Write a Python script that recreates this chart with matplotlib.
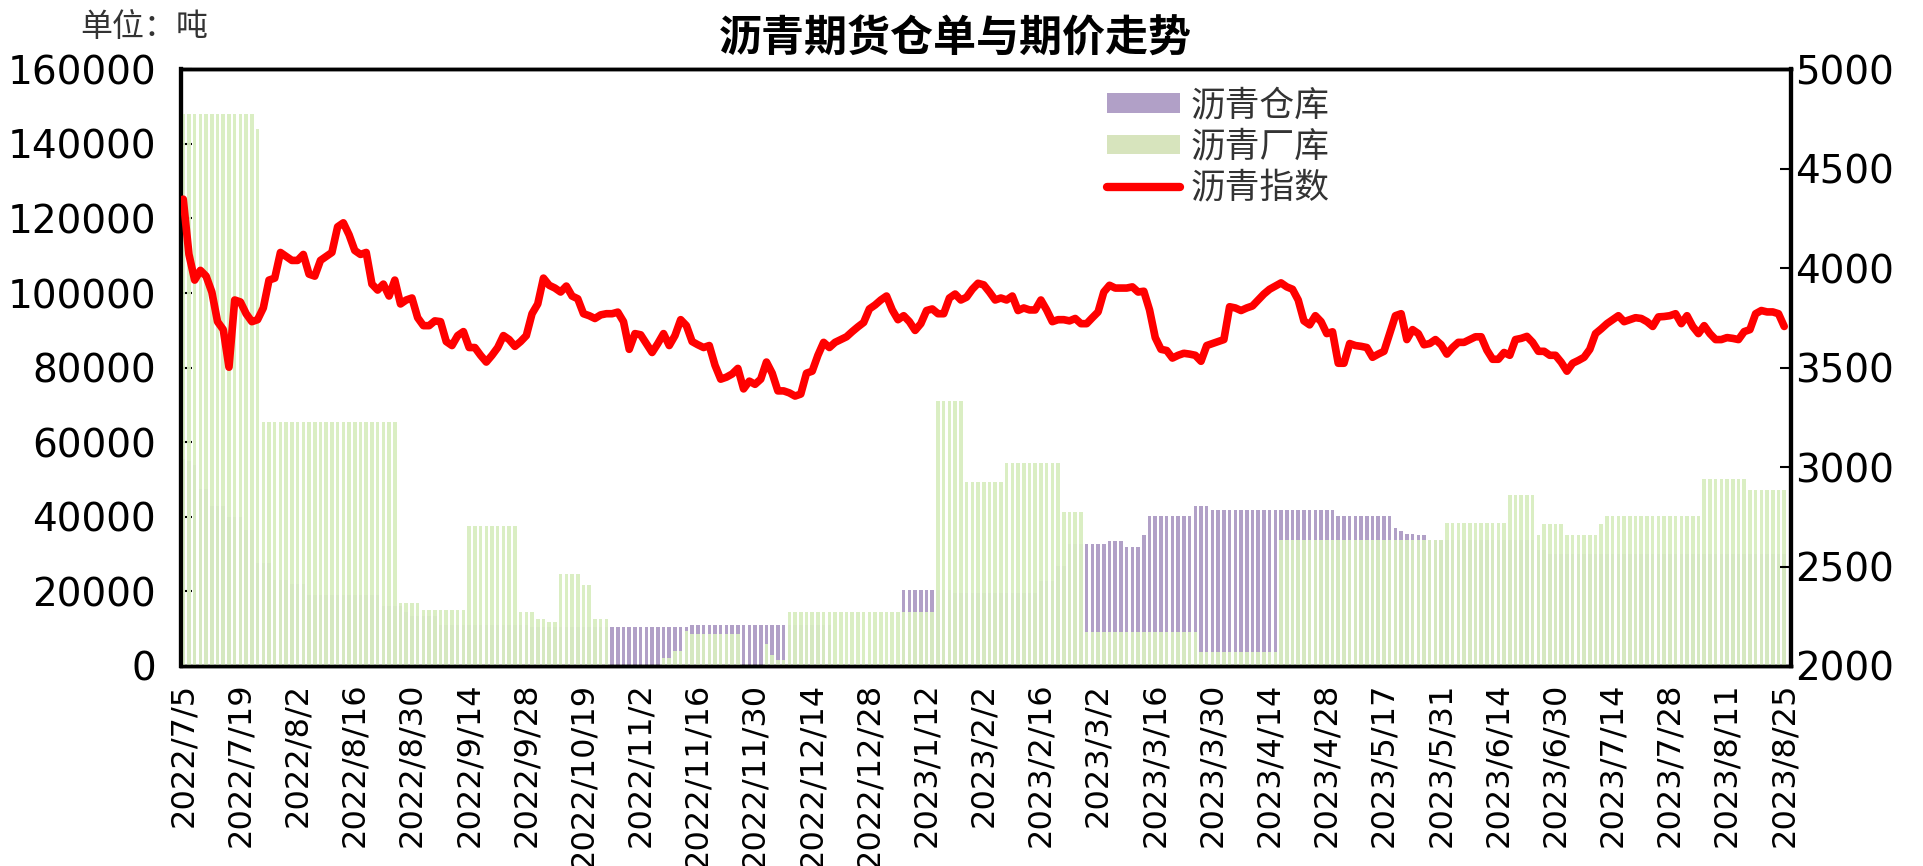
import numpy as np
import matplotlib
matplotlib.use('Agg')
from matplotlib import pyplot as plt
from matplotlib.patches import Patch
from matplotlib.lines import Line2D

plt.rcParams['font.family'] = ['DejaVu Sans', 'Noto Sans CJK SC']

# x tick labels (every 10 trading days)
tick_labels = ['2022/7/5', '2022/7/19', '2022/8/2', '2022/8/16', '2022/8/30', '2022/9/14',
               '2022/9/28', '2022/10/19', '2022/11/2', '2022/11/16', '2022/11/30', '2022/12/14',
               '2022/12/28', '2023/1/12', '2023/2/2', '2023/2/16', '2023/3/2', '2023/3/16',
               '2023/3/30', '2023/4/14', '2023/4/28', '2023/5/17', '2023/5/31', '2023/6/14',
               '2023/6/30', '2023/7/14', '2023/7/28', '2023/8/11', '2023/8/25']

# 沥青仓库 (tons), one value per trading day
warehouse = [
    55500, 55000, 54000, 47500, 47500, 43000, 43000, 43000, 40000, 40000,
    40000, 36500, 36500, 27500, 27500, 27500, 23000, 23000, 23000, 22000,
    22000, 22000, 19000, 19000, 19000, 19000, 19000, 19000, 19000, 19000,
    19000, 19000, 19000, 19000, 19000, 16000, 16000, 16000, 16000, 14500,
    13300, 13300, 13300, 13300, 13300, 11100, 11100, 11100, 11100, 11100,
    11100, 11100, 11100, 11100, 11100, 11100, 11100, 11100, 11100, 11100,
    11100, 10400, 10400, 10400, 10400, 10400, 10400, 10400, 10400, 10400,
    10400, 10400, 10400, 10400, 10400, 10400, 10400, 10400, 10400, 10400,
    10400, 10400, 10400, 10400, 10400, 10400, 10400, 10400, 10400, 11100,
    11100, 11100, 11100, 11100, 11100, 11100, 11100, 11100, 11100, 11100,
    11100, 11100, 11100, 11100, 11100, 11100, 11100, 11100, 11100, 11100,
    11100, 11100, 11100, 11100, 0, 0, 0, 0, 0, 0,
    0, 0, 0, 0, 0, 0, 20500, 20500, 20500, 20500,
    20500, 20500, 20500, 20500, 20500, 19600, 19600, 19600, 19600, 19600,
    19600, 19600, 19600, 19600, 19600, 19600, 19600, 19600, 19600, 19600,
    22800, 22800, 22800, 26700, 26700, 32700, 32700, 32700, 32700, 32700,
    32700, 32700, 33400, 33400, 33400, 32000, 32000, 32000, 35000, 40100,
    40100, 40100, 40100, 40100, 40100, 40100, 40100, 43000, 43000, 43000,
    41700, 41700, 41700, 41700, 41700, 41700, 41700, 41700, 41700, 41700,
    41700, 41700, 41700, 41700, 41700, 41700, 41700, 41700, 41700, 41700,
    41700, 41700, 40100, 40100, 40100, 40100, 40100, 40100, 40100, 40100,
    40100, 40100, 37100, 36100, 35500, 35500, 35000, 35000, 33700, 33700,
    33700, 33700, 33700, 33700, 33700, 33700, 33700, 33700, 33700, 33700,
    33700, 33700, 33700, 33700, 33700, 33700, 33700, 31000, 31000, 30000,
    30000, 30000, 30000, 30000, 30000, 30000, 30000, 30000, 30000, 30000,
    30000, 30000, 30000, 30000, 30000, 30000, 30000, 30000, 30000, 30000,
    30000, 30000, 30000, 30000, 30000, 30000, 30000, 30000, 30000, 30000,
    30000, 30000, 30000, 30000, 30000, 30000, 30000, 30000, 30000, 30000,
    30000,
]

# 沥青厂库 (tons)
factory = [
    148000, 148000, 148000, 148000, 148000, 148000, 148000, 148000, 148000, 148000,
    148000, 148000, 148000, 144000, 65500, 65500, 65500, 65500, 65500, 65500,
    65500, 65500, 65500, 65500, 65500, 65500, 65500, 65500, 65500, 65500,
    65500, 65500, 65500, 65500, 65500, 65500, 65500, 65500, 17000, 17000,
    17000, 17000, 15100, 15100, 15100, 15100, 15100, 15100, 15100, 15100,
    37600, 37600, 37600, 37600, 37600, 37600, 37600, 37600, 37600, 14600,
    14600, 14600, 12700, 12700, 11700, 11700, 24600, 24600, 24600, 24600,
    21600, 21600, 12500, 12500, 12500, 0, 0, 0, 0, 0,
    0, 0, 0, 0, 2000, 2000, 4000, 4000, 9500, 8500,
    8500, 8500, 8500, 8500, 8500, 8500, 8500, 8500, 0, 0,
    0, 0, 6000, 3000, 1500, 1500, 14600, 14600, 14600, 14600,
    14600, 14600, 14600, 14600, 14600, 14600, 14600, 14600, 14600, 14600,
    14600, 14600, 14600, 14600, 14600, 14600, 14600, 14600, 14600, 14600,
    14600, 14600, 71100, 71100, 71100, 71100, 71100, 49200, 49200, 49200,
    49200, 49200, 49200, 49200, 54300, 54300, 54300, 54300, 54300, 54300,
    54300, 54300, 54300, 54300, 41400, 41400, 41400, 41400, 9200, 9200,
    9200, 9200, 9200, 9200, 9200, 9200, 9200, 9200, 9200, 9200,
    9200, 9200, 9200, 9200, 9200, 9200, 9200, 9200, 3700, 3700,
    3700, 3700, 3700, 3700, 3700, 3700, 3700, 3700, 3700, 3700,
    3700, 3700, 33700, 33700, 33700, 33700, 33700, 33700, 33700, 33700,
    33700, 33700, 33700, 33700, 33700, 33700, 33700, 33700, 33700, 33700,
    33700, 33700, 33700, 33700, 33700, 33700, 33700, 33700, 33700, 33700,
    33700, 38400, 38400, 38400, 38400, 38400, 38400, 38400, 38400, 38400,
    38400, 38400, 45800, 45800, 45800, 45800, 45800, 35000, 38000, 38000,
    38000, 38000, 35000, 35000, 35000, 35000, 35000, 35000, 38000, 40100,
    40100, 40100, 40100, 40100, 40100, 40100, 40100, 40100, 40100, 40100,
    40100, 40100, 40100, 40100, 40100, 40100, 50100, 50100, 50100, 50100,
    50100, 50100, 50100, 50100, 47200, 47200, 47200, 47200, 47200, 47200,
    47200,
]

# 沥青指数 (right axis)
index_price = [
    4347, 4069, 3940, 3989, 3960, 3880, 3731, 3691, 3502, 3840,
    3830, 3771, 3731, 3741, 3800, 3940, 3950, 4079, 4059, 4039,
    4039, 4069, 3970, 3960, 4039, 4059, 4079, 4208, 4228, 4168,
    4089, 4069, 4079, 3920, 3890, 3920, 3860, 3940, 3820, 3840,
    3850, 3751, 3711, 3711, 3735, 3731, 3631, 3611, 3661, 3681,
    3601, 3601, 3562, 3528, 3562, 3601, 3661, 3641, 3607, 3631,
    3661, 3771, 3820, 3950, 3914, 3900, 3880, 3910, 3860, 3846,
    3771, 3761, 3747, 3765, 3771, 3771, 3779, 3731, 3592, 3671,
    3665, 3620, 3576, 3621, 3671, 3611, 3661, 3741, 3711, 3631,
    3615, 3601, 3611, 3512, 3442, 3452, 3468, 3496, 3393, 3432,
    3416, 3442, 3528, 3472, 3383, 3383, 3373, 3357, 3367, 3472,
    3482, 3562, 3627, 3601, 3627, 3641, 3655, 3681, 3705, 3727,
    3795, 3815, 3840, 3860, 3790, 3741, 3761, 3731, 3687, 3721,
    3787, 3795, 3771, 3771, 3850, 3870, 3840, 3854, 3894, 3924,
    3916, 3880, 3840, 3850, 3840, 3860, 3787, 3800, 3790, 3790,
    3840, 3790, 3731, 3741, 3741, 3735, 3747, 3721, 3721, 3751,
    3780, 3880, 3914, 3900, 3900, 3900, 3906, 3880, 3884, 3790,
    3651, 3592, 3586, 3548, 3562, 3572, 3568, 3562, 3532, 3611,
    3621, 3631, 3641, 3806, 3800, 3787, 3800, 3810, 3840, 3870,
    3894, 3910, 3926, 3906, 3894, 3840, 3735, 3715, 3761, 3731,
    3671, 3680, 3522, 3522, 3621, 3611, 3607, 3601, 3552, 3568,
    3582, 3671, 3761, 3771, 3641, 3691, 3671, 3615, 3621, 3641,
    3615, 3568, 3601, 3627, 3627, 3641, 3655, 3655, 3588, 3542,
    3542, 3576, 3562, 3641, 3647, 3657, 3627, 3582, 3582, 3562,
    3562, 3527, 3482, 3522, 3536, 3552, 3592, 3671, 3695, 3721,
    3741, 3761, 3731, 3741, 3751, 3747, 3731, 3707, 3755, 3757,
    3761, 3771, 3721, 3761, 3707, 3671, 3711, 3671, 3641, 3641,
    3651, 3647, 3641, 3681, 3691, 3771, 3787, 3780, 3780, 3771,
    3707,
]

purple = '#B1A0C7'
green = '#D8EDC0'

x = np.arange(len(index_price))

fig = plt.figure(figsize=(19.23, 8.66), dpi=100)
ax = fig.add_axes([0.0941, 0.231, 0.837, 0.689])

# purple first, green on top (almost opaque, so hidden purple only tints it)
ax.bar(x, warehouse, width=0.62, color=purple, zorder=2)
ax.bar(x, factory, width=0.62, color=green, alpha=0.94, zorder=3)

ax.set_ylim(0, 160000)
ax.set_yticks(np.arange(0, 160001, 20000))
ax.set_xlim(-0.4, len(x) + 0.1)
ax.set_xticks(x[::10])
ax.set_xticklabels(tick_labels, rotation=90, va='top', ha='center')
ax.tick_params(axis='x', length=0, pad=12, labelsize=23)
ax.tick_params(axis='y', direction='in', length=8, width=1.5, pad=18, labelsize=28)

ax2 = ax.twinx()
ax2.plot(x, index_price, color='#FF0000', linewidth=5.5, solid_capstyle='round',
         solid_joinstyle='round', zorder=4)
ax2.set_ylim(2000, 5000)
ax2.set_yticks(np.arange(2000, 5001, 500))
ax2.tick_params(axis='y', direction='in', length=8, width=1.5, pad=3, labelsize=28)

for a in (ax, ax2):
    a.spines['left'].set_linewidth(3)
    a.spines['right'].set_linewidth(3)
    a.spines['top'].set_linewidth(2.5)
    a.spines['bottom'].set_linewidth(2.5)

# legend
handles = [Patch(facecolor=purple, edgecolor='none'),
           Patch(facecolor='#D7E4BD', edgecolor='none'),
           Line2D([0], [0], color='#FF0000', linewidth=6, solid_capstyle='round')]
labels = ['沥青仓库', '沥青厂库', '沥青指数']
leg = ax2.legend(handles, labels, loc='upper left', bbox_to_anchor=(0.556, 1.02),
                 frameon=False, handlelength=2.1, handleheight=0.5,
                 labelspacing=0.18, handletextpad=0.3,
                 prop={'family': ['Noto Sans CJK SC'], 'size': 25})
for t in leg.get_texts():
    t.set_color('#333333')

# title and unit
fig.text(0.497, 0.955, '沥青期货仓单与期价走势', ha='center', va='center',
         fontsize=31, fontweight='bold', family=['Noto Sans CJK SC'])
fig.text(0.075, 0.969, '单位：吨', ha='center', va='center', fontsize=23,
         color='#333333', family=['Noto Sans CJK SC'])

plt.savefig('out.png', dpi=100)
